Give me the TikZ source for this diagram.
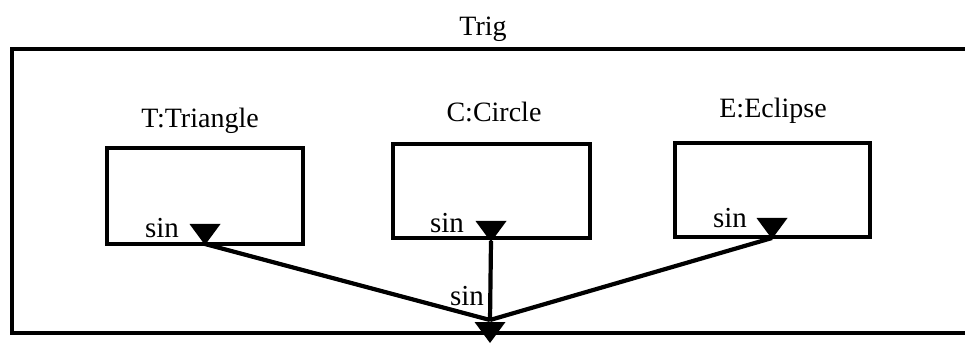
\documentclass[tikz,border=0pt]{standalone}
\usepackage{fontspec}
\setmainfont{Liberation Serif}
\begin{document}
\begin{tikzpicture}[x=1pt,y=-1pt,
  lbl/.style={inner sep=0pt,anchor=base,font=\fontsize{28}{32}\selectfont},
  pinlbl/.style={inner sep=0pt,font=\fontsize{29}{32}\selectfont},
  obj/.style={draw,line width=3.2pt,inner sep=0pt},
  conn/.style={line width=4.2pt,line join=miter},
  outer/.style={line width=3.2pt},
  port/.pic={\fill (0,1) -- (-15.5,-20) -- (15.5,-20) -- cycle;}
]
\useasboundingbox (0,0) rectangle (965,344);
% outer frame (open at right, runs off the picture)
\coordinate (otr) at (965,49);
\coordinate (otl) at (12,49);
\coordinate (obl) at (12,333);
\coordinate (obr) at (965,333);
\draw[outer] (otr) -- (otl) -- (obl) -- (obr);
\node[lbl] (trig) at (483,36) {Trig};
% objects
\node[obj,minimum width=196pt,minimum height=96pt] (T) at (205,196) {};
\node[obj,minimum width=197pt,minimum height=94pt] (C) at (491.5,191) {};
\node[obj,minimum width=195pt,minimum height=94pt] (E) at (772.5,190) {};
\node[lbl] (Tt) at (200,128) {T:Triangle};
\node[lbl] (Ct) at (494,122) {C:Circle};
\node[lbl] (Et) at (773,118) {E:Eclipse};
% ports
\coordinate (tp) at (205,244);
\coordinate (cp) at (491,241);
\coordinate (ep) at (772,238);
\coordinate (jp) at (490,320);
\pic at (tp) {port};
\pic at (cp) {port};
\pic at (ep) {port};
\pic at (490,342) {port};
\node[pinlbl] (ts) at (162,228) {sin};
\node[pinlbl] (cs) at (447,223) {sin};
\node[pinlbl] (es) at (730,218) {sin};
\node[pinlbl] (js) at (467,296) {sin};
% connectors
\draw[conn] (tp) -- (jp);
\draw[conn] (cp) -- (jp);
\draw[conn] (ep) -- (jp);
\end{tikzpicture}
\end{document}
